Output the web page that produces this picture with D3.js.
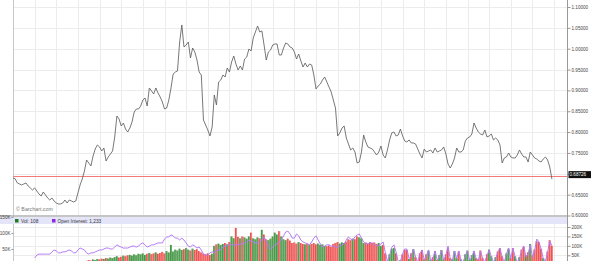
<!DOCTYPE html>
<html>
<head>
<meta charset="utf-8">
<script src="https://cdn.jsdelivr.net/npm/d3@7"></script>
<style>
  body { margin: 0; background: #fff; }
  svg { display: block; font-family: "Liberation Sans", Arial, sans-serif; }
</style>
</head>
<body>
<script>
// daily closes, one per trading day (250 days)
const closes = [
  0.6900,0.6880,0.6780,0.6756,0.6732,0.6756,0.6780,0.6708,0.6660,0.6612,
  0.6660,0.6588,0.6516,0.6468,0.6564,0.6492,0.6420,0.6372,0.6420,0.6348,
  0.6300,0.6276,0.6276,0.6300,0.6372,0.6300,0.6372,0.6348,0.6324,0.6348,
  0.6540,0.6732,0.6876,0.7067,0.7331,0.7259,0.7187,0.7427,0.7595,0.7691,
  0.7643,0.7547,0.7619,0.7307,0.7403,0.7475,0.7547,0.7883,0.8386,0.8314,
  0.8146,0.8218,0.8074,0.8003,0.8098,0.8242,0.8482,0.8554,0.8554,0.8626,
  0.8770,0.8818,0.8626,0.9058,0.8986,0.8914,0.9058,0.8938,0.8842,0.8722,
  0.8554,0.8578,0.8770,0.9058,0.9393,0.9441,0.9465,1.0161,1.0569,1.0041,
  1.0089,1.0161,0.9777,1.0017,0.9921,0.9729,0.9441,0.9369,0.8290,0.8170,
  0.8051,0.7907,0.8122,0.8890,0.8650,0.9202,0.9250,0.9369,0.9322,0.9537,
  0.9441,0.9681,0.9825,0.9633,0.9489,0.9585,0.9489,0.9753,0.9801,0.9993,
  0.9945,1.0257,1.0401,1.0545,1.0401,1.0425,1.0089,0.9729,0.9921,0.9969,
  1.0089,1.0113,1.0113,0.9849,0.9849,1.0017,1.0137,1.0113,1.0041,1.0017,
  0.9921,0.9753,0.9873,0.9705,0.9561,0.9657,0.9561,0.9633,0.9609,0.9369,
  0.9034,0.9106,0.9154,0.9250,0.9322,0.9202,0.9082,0.8962,0.8770,0.8578,
  0.7907,0.7979,0.8098,0.8146,0.7859,0.7715,0.7571,0.7619,0.7523,0.7259,
  0.7283,0.7523,0.7931,0.7763,0.7643,0.7619,0.7595,0.7523,0.7451,0.7523,
  0.7667,0.7451,0.7379,0.7571,0.7811,0.7979,0.8003,0.7907,0.7931,0.8074,
  0.7907,0.7787,0.7763,0.7811,0.7739,0.7739,0.7715,0.7595,0.7475,0.7379,
  0.7595,0.7523,0.7547,0.7571,0.7499,0.7619,0.7523,0.7547,0.7571,0.7643,
  0.7475,0.7235,0.7139,0.7235,0.7379,0.7619,0.7523,0.7523,0.7571,0.7787,
  0.7859,0.7883,0.7955,0.8218,0.8098,0.8003,0.7955,0.7931,0.8051,0.7883,
  0.7907,0.7955,0.7811,0.7859,0.7811,0.7691,0.7259,0.7379,0.7403,0.7499,
  0.7403,0.7379,0.7379,0.7451,0.7571,0.7475,0.7403,0.7403,0.7283,0.7523,
  0.7451,0.7379,0.7355,0.7307,0.7283,0.7355,0.7403,0.7331,0.7163,0.6873
];
const lastLabel = "0.68726";

// volume in thousands, starting at day 34
const volStart = 34;
const volume = [
  20,25,22,28,25,30,28,
  32,30,35,33,38,35,40,45,38,42,
  48,45,50,52,48,55,50,58,55,60,
  52,58,62,56,60,65,58,62,68,60,
  72,65,105,70,80,75,85,78,82,88,
  80,75,85,78,82,72,65,58,55,60,
  52,58,100,108,112,105,110,115,108,120,
  150,140,195,148,140,150,145,138,150,170,
  140,135,145,140,185,160,135,130,138,150,
  170,160,178,150,135,130,138,128,115,118,
  112,120,115,110,108,112,105,110,115,108,
  112,105,108,100,98,102,95,110,115,120,
  112,118,115,122,135,130,138,135,150,145,
  140,115,118,112,120,115,118,110,115,100,
  105,60,20,55,85,88,60,18,25,55,
  80,78,30,60,82,40,18,60,78,28,
  55,75,25,40,72,25,50,78,28,55,
  90,35,25,72,35,70,28,18,55,75,
  25,50,72,35,25,75,35,18,55,80,
  45,18,40,70,88,45,18,60,85,35,
  88,45,18,40,80,95,50,65,110,50,
  80,125,120,85,35,20,70,130,100
];

// open interest in thousands, starting at day 10
const oiStart = 10;
const openInterest = [
  22,31,34,34,34,34,34,34,41,47,
  44,38,38,41,41,44,47,44,38,38,
  47,53,50,47,38,34,38,38,41,44,
  47,47,50,53,53,50,50,56,63,59,
  56,53,53,53,56,59,59,56,59,66,
  69,63,56,59,63,63,66,69,69,69,
  81,88,88,94,91,84,84,78,84,78,
  69,59,56,63,59,53,56,47,34,31,
  31,38,41,38,44,47,47,56,59,63,
  63,63,63,63,63,66,66,69,72,78,
  75,72,69,69,72,78,88,75,59,50,
  56,63,66,72,78,91,103,106,97,84,
  84,97,91,78,72,69,66,63,72,84,
  91,78,66,56,59,63,63,59,59,56,
  56,59,63,66,78,88,81,78,88,94,
  97,84,72,66,66,69,69,63,
  60,60,66,72,40,12,30,55,63,40,10,12,
  35,50,50,20,30,50,25,10,35,47,
  15,30,47,15,20,44,15,25,47,15,
  30,59,20,15,44,20,44,15,10,30,
  44,15,25,44,20,15,44,20,10,30,
  47,25,10,20,40,53,25,10,35,53,
  20,53,25,10,20,45,59,25,35,63,
  25,45,81,72,50,20,12,40,75,60
];

const priceTicks = [0.60,0.65,0.70,0.75,0.80,0.85,0.90,0.95,1.00,1.05,1.10];
const volTicks = [50,100,150,200];
const oiTicks = [50,100,150];
const legendVol = "Vol: 108";
const legendOI = "Open Interest: 1,233";

const width = 591, height = 261;
const left = 13, axisX = 567;

const svg = d3.select("body").append("svg")
  .attr("width", width).attr("height", height);

const x = d3.scaleLinear().domain([0, 250]).range([left, 554.1]);
const yPrice = d3.scaleLinear().domain([0.60, 1.10]).range([215.5, 7]);
const yVol = d3.scaleLinear().domain([0, 200]).range([264.7, 227]);
const yOI = d3.scaleLinear().domain([0, 150]).range([265, 217]);

const px = v => Math.round(v) + 0.5;
const gridDays = d3.range(10, 251, 10);
const lastClose = +lastLabel;
const tagY = yPrice(lastClose) - 4.5;

// grids
const grid = svg.append("g").attr("stroke", "#ececec").attr("stroke-width", 1);
grid.selectAll(".vp").data(gridDays).join("line")
  .attr("x1", d => px(x(d))).attr("x2", d => px(x(d)))
  .attr("y1", 0).attr("y2", 215);
grid.selectAll(".vv").data(gridDays).join("line")
  .attr("x1", d => px(x(d))).attr("x2", d => px(x(d)))
  .attr("y1", 224).attr("y2", height);
grid.selectAll(".hp").data(priceTicks.slice(1)).join("line")
  .attr("x1", left).attr("x2", axisX)
  .attr("y1", d => px(yPrice(d))).attr("y2", d => px(yPrice(d)));
grid.selectAll(".hv").data(volTicks).join("line")
  .attr("x1", left).attr("x2", axisX)
  .attr("y1", d => px(yVol(d))).attr("y2", d => px(yVol(d)));

// left border
svg.append("line").attr("x1", left + 0.5).attr("x2", left + 0.5)
  .attr("y1", 0).attr("y2", height).attr("stroke", "#c8c8c8");

// volume bars
svg.append("clipPath").attr("id", "volclip").append("rect")
  .attr("x", left).attr("y", 224).attr("width", axisX - left).attr("height", height - 224);
const volData = volume.map((v, i) => {
  const day = volStart + i;
  return { day, v, up: closes[day] >= closes[day - 1] };
});
const bars = svg.append("g").attr("clip-path", "url(#volclip)");
bars.selectAll("rect").data(volData).join("rect")
  .attr("x", d => x(d.day) - 1)
  .attr("width", 2)
  .attr("y", d => yVol(d.v))
  .attr("height", d => yVol(0) - yVol(d.v))
  .attr("fill", d => d.up ? "#6aad6a" : "#f47c7c");
bars.selectAll("line").data(volData).join("line")
  .attr("x1", d => x(d.day) - 0.6).attr("x2", d => x(d.day) - 0.6)
  .attr("y1", d => yVol(d.v)).attr("y2", height)
  .attr("stroke", d => d.up ? "#1f7a1f" : "#e31b1b")
  .attr("stroke-width", 0.5);

// open interest line
const oiLine = d3.line().x((d, i) => x(oiStart + i)).y(d => yOI(d));
bars.append("path").datum(openInterest)
  .attr("d", oiLine).attr("fill", "none")
  .attr("stroke", "#b57bf6").attr("stroke-width", 1);

// separator and legend band
svg.append("rect").attr("x", 0).attr("y", 217).attr("width", axisX).attr("height", 7)
  .attr("fill", "#e5e5fa");
svg.append("line").attr("x1", 0).attr("x2", axisX).attr("y1", 216).attr("y2", 216)
  .attr("stroke", "#b2b2b2").attr("stroke-width", 1.4);

svg.append("rect").attr("x", 15).attr("y", 219).attr("width", 3.5).attr("height", 3.5).attr("fill", "#1d7a1d");
svg.append("text").attr("x", 21).attr("y", 222.8).attr("font-size", 4.8).attr("fill", "#333").text(legendVol);
svg.append("rect").attr("x", 52).attr("y", 219).attr("width", 3.5).attr("height", 3.5).attr("fill", "#8a2be2");
svg.append("text").attr("x", 57.5).attr("y", 222.8).attr("font-size", 4.8).attr("fill", "#333").text(legendOI);

// reference line at last close (snapped to an even pixel row so the colour survives)
const refRow = 2 * Math.floor((yPrice(lastClose) - 2) / 2);
svg.append("rect").attr("x", left).attr("width", axisX - left)
  .attr("y", refRow).attr("height", 1)
  .attr("fill", "#f27a7a");

const priceLine = d3.line().x((d, i) => x(i)).y(d => yPrice(d));
svg.append("path").datum(closes)
  .attr("d", priceLine).attr("fill", "none")
  .attr("stroke", "#606060").attr("stroke-width", 0.85);

svg.append("text").attr("x", 16).attr("y", 211).attr("font-size", 5.3).attr("fill", "#777")
  .text("\u00A9 Barchart.com");

// axes
function styleAxis(g) {
  g.attr("font-size", null).attr("font-family", null);
  g.selectAll("text").attr("font-size", 4.6).attr("fill", "#444");
  g.selectAll("line").attr("stroke", "#999");
  g.select(".domain").attr("stroke", "#999");
}

// the tick label hidden behind the last-price tag is left blank
const priceFmt = d3.format(".5f");
svg.append("g").attr("transform", `translate(${axisX + 0.5},0)`)
  .call(d3.axisRight(yPrice).tickValues(priceTicks)
    .tickFormat(d => Math.abs(yPrice(d) - tagY) < 6 ? "" : priceFmt(d))
    .tickSize(3).tickPadding(1).tickSizeOuter(0))
  .call(styleAxis)
  .call(g => g.select(".domain").attr("d", `M0,0V${height}`));

svg.append("g").attr("transform", `translate(${axisX + 0.5},0)`)
  .call(d3.axisRight(yVol).tickValues(volTicks).tickFormat(d => d + "K").tickSize(3).tickPadding(1))
  .call(styleAxis)
  .call(g => g.select(".domain").remove());

svg.append("g").attr("transform", `translate(${left + 0.5},0)`)
  .call(d3.axisLeft(yOI).tickValues(oiTicks).tickFormat(d => d + "K").tickSize(2).tickPadding(1))
  .call(styleAxis)
  .call(g => g.select(".domain").remove());

// last price tag
svg.append("rect").attr("x", axisX + 1.5).attr("y", tagY - 3.5).attr("width", 24).attr("height", 7)
  .attr("fill", "#111");
svg.append("text").attr("x", axisX + 2.5).attr("y", tagY + 1.7).attr("font-size", 4.6)
  .attr("fill", "#fff").text(lastLabel);
</script>
</body>
</html>
